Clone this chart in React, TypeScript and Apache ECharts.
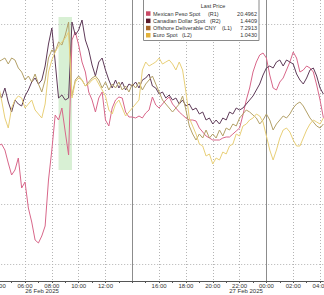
import React, { useEffect, useRef } from "react";
import * as echarts from "echarts";

// 15-minute time categories, 26 Feb 2025 04:00 -> 27 Feb 2025 04:15
const categories: string[] = [];
for (let k = 0; k < 98; k++) {
  const m = 4 * 60 + k * 15;
  const day = m >= 1440 ? 27 : 26;
  const mm = m % 1440;
  const p = (n: number) => (n < 10 ? "0" + n : "" + n);
  categories.push(`2025-02-${day} ${p(Math.floor(mm / 60))}:${p(mm % 60)}`);
}

const seriesNames = ["Mexican Peso Spot", "Canadian Dollar Spot", "Offshore Deliverable CNY", "Euro Spot"];
const axisTags = ["(R1)", "(R2)", "(L1)", "(L2)"];
const dateLabels = ["26 Feb 2025", "27 Feb 2025"];

const mxn = [
  20.468, 20.470, 20.464, 20.451, 20.439, 20.444, 20.456, 20.426, 20.432, 20.406,
  20.392, 20.374, 20.371, 20.378, 20.388, 20.434, 20.464, 20.499, 20.494, 20.506,
  20.482, 20.459, 20.574, 20.582, 20.569, 20.552, 20.542, 20.522, 20.514, 20.502,
  20.516, 20.522, 20.494, 20.488, 20.506, 20.514, 20.517, 20.516, 20.502, 20.497,
  20.497, 20.496, 20.498, 20.496, 20.501, 20.504, 20.517, 20.509, 20.506, 20.510,
  20.514, 20.517, 20.510, 20.506, 20.502, 20.499, 20.496, 20.494, 20.494, 20.493,
  20.486, 20.482, 20.478, 20.476, 20.474, 20.474, 20.474, 20.476, 20.477, 20.477,
  20.480, 20.483, 20.486, 20.499, 20.514, 20.526, 20.542, 20.552, 20.559, 20.561,
  20.556, 20.539, 20.526, 20.524, 20.532, 20.536, 20.544, 20.552, 20.562, 20.556,
  20.542, 20.544, 20.548, 20.546, 20.542, 20.529, 20.514, 20.4962,
];

const cad = [
  1.4413, 1.4405, 1.4415, 1.4401, 1.4391, 1.4403, 1.4399, 1.4397, 1.4407, 1.4413,
  1.4421, 1.4425, 1.4419, 1.4423, 1.4437, 1.4459, 1.4475, 1.4441, 1.4405, 1.4408,
  1.4403, 1.4405, 1.4481, 1.4468, 1.4473, 1.4483, 1.4463, 1.4453, 1.4438, 1.4427,
  1.4441, 1.4445, 1.4433, 1.4423, 1.4415, 1.4423, 1.4415, 1.4421, 1.4413, 1.4419,
  1.4417, 1.4421, 1.4415, 1.4423, 1.4425, 1.4429, 1.4417, 1.4415, 1.4409, 1.4411,
  1.4405, 1.4408, 1.4403, 1.4405, 1.4399, 1.4403, 1.4397, 1.4399, 1.4393, 1.4395,
  1.4389, 1.4391, 1.4383, 1.4385, 1.4379, 1.4383, 1.4379, 1.4385, 1.4383, 1.4391,
  1.4389, 1.4395, 1.4393, 1.4395, 1.4399, 1.4403, 1.4407, 1.4413, 1.4419, 1.4428,
  1.4435, 1.4437, 1.4435, 1.4441, 1.4443, 1.4437, 1.4443, 1.4441, 1.4439, 1.4429,
  1.4423, 1.4419, 1.4425, 1.4433, 1.4435, 1.4427, 1.4415, 1.4409,
];

const cny = [
  7.2975, 7.2977, 7.2979, 7.2973, 7.2979, 7.2977, 7.2969, 7.2965, 7.2957, 7.2961,
  7.2955, 7.2963, 7.2953, 7.2945, 7.2957, 7.2979, 7.2987, 7.2985, 7.2995, 7.2992,
  7.3002, 7.3015, 7.2941, 7.2957, 7.2961, 7.2957, 7.2951, 7.2955, 7.2959, 7.2961,
  7.2957, 7.2949, 7.2955, 7.2947, 7.2953, 7.2949, 7.2955, 7.2947, 7.2951, 7.2945,
  7.2953, 7.2949, 7.2955, 7.2947, 7.2953, 7.2957, 7.2961, 7.2953, 7.2945, 7.2937,
  7.2933, 7.2929, 7.2925, 7.2929, 7.2933, 7.2941, 7.2927, 7.2911, 7.2903, 7.2897,
  7.2903, 7.2899, 7.2907, 7.2899, 7.2903, 7.2899, 7.2907, 7.2901, 7.2909, 7.2907,
  7.2913, 7.2911, 7.2919, 7.2923, 7.2927, 7.2925, 7.2922, 7.2919, 7.2913, 7.2917,
  7.2923, 7.2917, 7.2907, 7.2913, 7.2917, 7.2921, 7.2919, 7.2923, 7.2929, 7.2933,
  7.2935, 7.2931, 7.2925, 7.2919, 7.2915, 7.2911, 7.2909, 7.2913,
];

const eur = [
  1.0464, 1.0448, 1.0430, 1.0420, 1.0440, 1.0448, 1.0452, 1.0450, 1.0440, 1.0444,
  1.0448, 1.0438, 1.0434, 1.0430, 1.0444, 1.0476, 1.0488, 1.0496, 1.0502, 1.0506,
  1.0510, 1.0516, 1.0450, 1.0466, 1.0470, 1.0468, 1.0462, 1.0464, 1.0468, 1.0470,
  1.0464, 1.0458, 1.0452, 1.0438, 1.0434, 1.0444, 1.0448, 1.0440, 1.0432, 1.0436,
  1.0440, 1.0444, 1.0448, 1.0478, 1.0486, 1.0482, 1.0484, 1.0486, 1.0490, 1.0484,
  1.0486, 1.0488, 1.0484, 1.0478, 1.0486, 1.0478, 1.0456, 1.0430, 1.0422, 1.0414,
  1.0404, 1.0402, 1.0392, 1.0394, 1.0384, 1.0390, 1.0388, 1.0396, 1.0394, 1.0402,
  1.0404, 1.0414, 1.0412, 1.0422, 1.0424, 1.0428, 1.0430, 1.0434, 1.0432, 1.0426,
  1.0412, 1.0398, 1.0388, 1.0398, 1.0410, 1.0418, 1.0420, 1.0416, 1.0408, 1.0402,
  1.0402, 1.0410, 1.0418, 1.0424, 1.0428, 1.0426, 1.0424, 1.0430,
];

// axis ranges (hidden axes)
const axisMax = [20.614, 1.4503, 7.3037, 1.0548];
const axisMin = [20.333, 1.4222, 7.2756, 1.0267];
// horizontal grid levels on the R1 axis
const gridLevels = [20.585, 20.525, 20.466, 20.407, 20.348];
// highlighted window
const highlight = { from: "2025-02-26 08:30", to: "2025-02-26 09:30", hi: 20.597, lo: 20.444 };
const sessionLines = ["2025-02-26 14:00", "2025-02-27 00:00"];

const lineColors = ["#d8678a", "#5e3a58", "#b3a067", "#e8cf78"];
const keyColors = ["#c94a66", "#5a1a2c", "#a8682c", "#e2b23c"];
const FONT = "Liberation Sans";

const hh = (c: string) => +c.slice(11, 13);
const mi = (c: string) => +c.slice(14, 16);

export default function App() {
  const ref = useRef<HTMLDivElement>(null);
  useEffect(() => {
    const chart = echarts.init(ref.current!, undefined, { renderer: "svg", width: 324, height: 295 });
    const all = [mxn, cad, cny, eur];
    const series: any[] = all.map((d, i) => ({
      name: seriesNames[i],
      type: "line",
      yAxisIndex: i,
      data: d,
      symbol: "none",
      showSymbol: false,
      lineStyle: { width: 1, color: lineColors[i] },
      itemStyle: { color: lineColors[i] },
      z: 3 + i,
    }));
    series[0].markLine = {
      silent: true,
      symbol: ["none", "none"],
      label: { show: false },
      z: 1,
      data: [
        ...gridLevels.map((v) => ({ yAxis: v, lineStyle: { type: [1, 2], color: "#b4b4b4", width: 1 } })),
        ...sessionLines.map((c) => ({ xAxis: c, lineStyle: { type: "solid", color: "#8c8c8c", width: 1 } })),
      ],
    };
    series[0].markArea = {
      silent: true,
      itemStyle: { color: "rgba(178,226,170,0.5)" },
      data: [[{ xAxis: highlight.from, yAxis: highlight.hi }, { xAxis: highlight.to, yAxis: highlight.lo }]],
    };

    const rowY = [13.5, 20.8, 28, 35.2];
    const tagX = [208, 210, 222, 182];
    const graphics: any[] = [
      { type: "rect", z: 100, shape: { x: 143.5, y: -1, width: 115.5, height: 41.5 }, style: { fill: "#fff", stroke: "#8a8a8a", lineWidth: 1 } },
      { type: "text", z: 101, x: 213, y: 6, style: { text: "Last Price", fill: "#333", font: `5.5px ${FONT}`, textAlign: "center", textVerticalAlign: "middle" } },
    ];
    seriesNames.forEach((n, i) => {
      const d = all[i];
      graphics.push(
        { type: "rect", z: 101, shape: { x: 146, y: rowY[i] - 2.2, width: 4.5, height: 4.5 }, style: { fill: keyColors[i] } },
        { type: "text", z: 101, x: 153, y: rowY[i], style: { text: n, fill: "#333", font: `5.5px ${FONT}`, textVerticalAlign: "middle" } },
        { type: "text", z: 101, x: tagX[i], y: rowY[i], style: { text: axisTags[i], fill: "#333", font: `5.5px ${FONT}`, textVerticalAlign: "middle" } },
        { type: "text", z: 101, x: 257, y: rowY[i], style: { text: d[d.length - 1].toFixed(4), fill: "#333", font: `5.5px ${FONT}`, textAlign: "right", textVerticalAlign: "middle" } }
      );
    });
    graphics.push(
      { type: "text", x: 42, y: 291, style: { text: dateLabels[0], fill: "#333", font: `6px ${FONT}`, textAlign: "center", textVerticalAlign: "middle" } },
      { type: "text", x: 246, y: 291, style: { text: dateLabels[1], fill: "#333", font: `6px ${FONT}`, textAlign: "center", textVerticalAlign: "middle" } }
    );

    chart.setOption({
      animation: false,
      backgroundColor: "#ffffff",
      grid: { left: -1.8, right: 0.6, top: 0, bottom: 14, containLabel: false, outerBoundsMode: "none" },
      xAxis: {
        type: "category",
        data: categories,
        boundaryGap: false,
        axisLine: { onZero: false, lineStyle: { color: "#555", width: 1 } },
        axisTick: { show: true, length: 2, interval: (_i: number, v: string) => mi(v) === 0, lineStyle: { color: "#555" } },
        axisLabel: {
          interval: (_i: number, v: string) => mi(v) === 0 && hh(v) % 2 === 0 && hh(v) !== 14,
          formatter: (v: string) => v.slice(11),
          fontSize: 6,
          fontFamily: FONT,
          color: "#333",
          margin: 2,
          hideOverlap: false,
        },
        splitLine: {
          show: true,
          interval: (_i: number, v: string) => mi(v) === 0 && hh(v) % 2 === 0,
          lineStyle: { type: [1, 2], color: "#b4b4b4", width: 1 },
        },
      },
      yAxis: axisMax.map((mx, i) => ({
        type: "value",
        show: false,
        min: axisMin[i],
        max: mx,
        splitLine: { show: false },
      })),
      series,
      graphic: graphics,
    });
    return () => chart.dispose();
  }, []);
  return <div ref={ref} style={{ position: "fixed", left: 0, top: 0, width: 324, height: 295, background: "#fff" }} />;
}
